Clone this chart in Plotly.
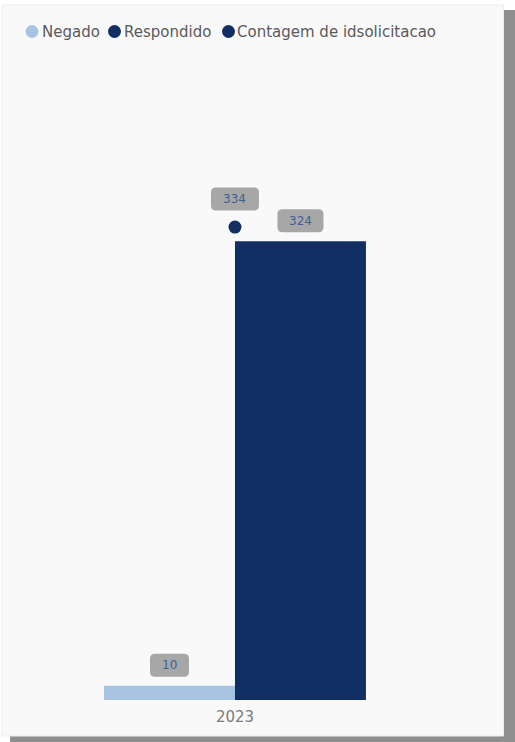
import plotly.graph_objects as go

# Solicitações por situação, ano 2023
anos = ["2023"]
negado = [10]
respondido = [324]
contagem = [334]

COR_NEGADO = "#A9C4E3"
COR_RESPONDIDO = "#122F63"
COR_ROTULO_FUNDO = "rgba(160,160,160,0.92)"
COR_ROTULO_TEXTO = "#3E5F95"
FONTE = "DejaVu Sans"

W, H = 515, 742
M = dict(l=5, r=12, t=60, b=42)
PW, PH = W - M["l"] - M["r"], H - M["t"] - M["b"]

BARGAP = 0.474
GRUPO = 1 - BARGAP
X_INI = -0.4618


def px(x):
    return (x - M["l"]) / PW


def py(y):
    return (H - M["b"] - y) / PH


fig = go.Figure()
fig.add_trace(go.Bar(name="Negado", x=anos, y=negado, marker_color=COR_NEGADO,
                     marker_line_width=0, showlegend=False))
fig.add_trace(go.Bar(name="Respondido", x=anos, y=respondido, marker_color=COR_RESPONDIDO,
                     marker_line_width=0, showlegend=False))
fig.add_trace(go.Scatter(name="Contagem de idsolicitacao", x=anos, y=contagem, mode="markers",
                         marker=dict(color=COR_RESPONDIDO, size=13), showlegend=False))

shapes = []
annotations = []

# painel com sombra
shapes.append(dict(type="rect", xref="paper", yref="paper", layer="below",
                   x0=px(503), x1=px(515), y0=py(742), y1=py(10),
                   fillcolor="#8E8E8E", line_width=0))
shapes.append(dict(type="rect", xref="paper", yref="paper", layer="below",
                   x0=px(10), x1=px(515), y0=py(742), y1=py(736),
                   fillcolor="#8E8E8E", line_width=0))
shapes.append(dict(type="rect", xref="paper", yref="paper", layer="below",
                   x0=px(2), x1=px(503.5), y0=py(736), y1=py(5),
                   fillcolor="#F9F9FA", line=dict(color="#EDEDED", width=1)))


def caixa(x, y, largura, base, altura=23, r=5):
    w2 = largura / 2
    y0, y1 = base, base + altura
    path = (f"M {-w2 + r},{y0} L {w2 - r},{y0} Q {w2},{y0} {w2},{y0 + r} "
            f"L {w2},{y1 - r} Q {w2},{y1} {w2 - r},{y1} L {-w2 + r},{y1} "
            f"Q {-w2},{y1} {-w2},{y1 - r} L {-w2},{y0 + r} Q {-w2},{y0} {-w2 + r},{y0} Z")
    shapes.append(dict(type="path", xref="x", yref="y", xsizemode="pixel", ysizemode="pixel",
                       xanchor=x, yanchor=y, path=path, fillcolor=COR_ROTULO_FUNDO, line_width=0))
    annotations.append(dict(x=x, y=y, xref="x", yref="y", text=str(y), showarrow=False,
                            yanchor="middle", yshift=base + altura / 2,
                            font=dict(family=FONTE, size=12, color=COR_ROTULO_TEXTO)))


# rótulos de dados: centros das barras dentro do grupo
deslocamento = GRUPO / 4
for v in negado:
    caixa(-deslocamento, v, 39, 9)
for v in respondido:
    caixa(deslocamento, v, 46, 9)
for v in contagem:
    caixa(0, v, 48, 16.5)

# legenda
itens = [("Negado", COR_NEGADO, 32, 40), ("Respondido", COR_RESPONDIDO, 114.5, 122),
         ("Contagem de idsolicitacao", COR_RESPONDIDO, 228.5, 235)]
for nome, cor, cx, tx in itens:
    shapes.append(dict(type="circle", xref="paper", yref="paper",
                       x0=px(cx - 6.5), x1=px(cx + 6.5), y0=py(31.5 + 6.5), y1=py(31.5 - 6.5),
                       fillcolor=cor, line_width=0))
    annotations.append(dict(x=px(tx), y=py(31.5), xref="paper", yref="paper", text=nome,
                            showarrow=False, xanchor="left", yanchor="middle",
                            font=dict(family=FONTE, size=15, color="#5A5A5A")))

fig.update_layout(
    width=W, height=H, margin=M,
    paper_bgcolor="#FFFFFF", plot_bgcolor="rgba(0,0,0,0)",
    barmode="group", bargap=BARGAP, bargroupgap=0,
    shapes=shapes, annotations=annotations, showlegend=False,
    xaxis=dict(type="category", range=[X_INI, X_INI + 1], showgrid=False, zeroline=False,
               showline=False, ticks="", ticklabelstandoff=6,
               tickfont=dict(family=FONTE, size=15, color="#7A7A7A")),
    yaxis=dict(range=[0, 452], visible=False, showgrid=False, zeroline=False),
)

fig.write_html("out.html")
